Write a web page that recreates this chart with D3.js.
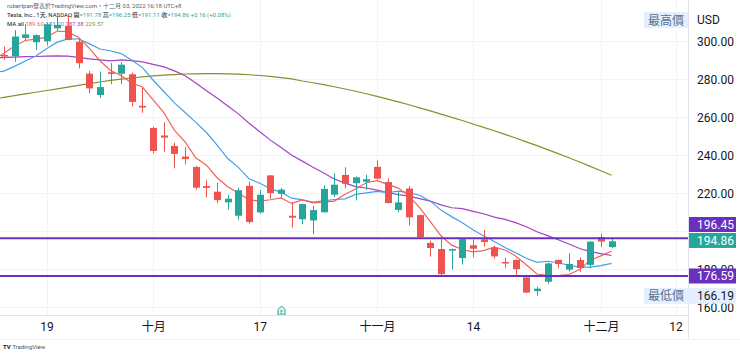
<!DOCTYPE html>
<html>
<head>
<meta charset="utf-8">
<script src="https://cdnjs.cloudflare.com/ajax/libs/d3/7.8.5/d3.min.js"></script>
<style>
  body { margin: 0; background: #fff; }
  svg { display: block; font-family: Roboto, "Noto Sans", "Noto Sans CJK TC", sans-serif; }
</style>
</head>
<body>
<div id="chart"></div>
<script>
// daily candles, TSLA, 2022-09-13 .. 2022-12-02
var dates = ['09-13','09-14','09-15','09-16','09-19','09-20','09-21','09-22','09-23','09-26',
  '09-27','09-28','09-29','09-30','10-03','10-04','10-05','10-06','10-07','10-10',
  '10-11','10-12','10-13','10-14','10-17','10-18','10-19','10-20','10-21','10-24',
  '10-25','10-26','10-27','10-28','10-31','11-01','11-02','11-03','11-04','11-07',
  '11-08','11-09','11-10','11-11','11-14','11-15','11-16','11-17','11-18','11-21',
  '11-22','11-23','11-25','11-28','11-29','11-30','12-01','12-02'];
var open = [292.90,292.24,301.83,299.61,300.09,306.91,308.29,299.86,283.09,271.83,
  283.84,283.08,282.76,266.15,254.50,250.52,245.01,239.44,233.94,223.93,
  220.95,215.33,208.30,224.01,210.04,229.50,219.80,208.28,206.42,205.82,
  210.10,219.40,229.77,225.40,226.19,234.05,226.04,211.36,222.60,208.65,
  194.02,190.78,189.90,186.00,192.77,195.88,191.51,183.96,185.05,175.85,
  168.63,173.57,185.06,179.96,184.99,182.43,197.08,191.78];
var high = [297.40,306.00,309.12,303.71,309.84,313.33,313.80,301.29,284.50,284.09,
  288.67,289.00,283.65,275.57,255.16,257.50,246.67,244.58,234.57,226.99,
  225.75,219.30,222.99,226.26,221.86,229.82,222.93,215.55,214.66,213.50,
  224.35,230.60,233.81,228.86,229.85,237.40,227.87,221.20,223.80,208.90,
  195.20,195.89,191.00,196.52,195.73,200.82,192.57,186.16,185.19,176.77,
  170.92,183.62,185.20,188.50,186.38,194.76,198.92,196.25];
var low = [290.40,289.30,300.72,295.60,297.80,305.58,300.63,285.82,272.82,270.31,
  277.51,277.57,265.78,262.47,241.01,242.01,233.27,235.35,222.02,218.00,
  215.00,211.51,206.22,204.16,209.45,217.25,217.78,202.00,203.80,198.59,
  210.00,218.20,222.85,216.35,221.94,227.28,214.82,210.14,203.08,196.66,
  186.75,177.12,180.03,182.59,186.34,192.06,185.66,180.90,176.55,167.54,
  166.19,172.50,180.63,179.00,178.75,180.63,191.80,191.11];
var close = [292.13,302.61,303.75,303.35,309.07,308.73,300.80,288.59,275.33,276.01,
  282.94,287.81,268.21,265.25,242.40,249.44,240.81,238.13,223.07,222.96,
  216.50,217.24,221.72,204.99,219.35,220.19,222.04,207.28,214.44,211.25,
  222.42,224.64,225.09,228.52,227.54,227.82,214.98,215.31,207.47,197.08,
  191.30,177.59,190.72,195.97,190.95,194.42,186.92,183.17,180.19,167.87,
  169.91,183.20,182.86,182.92,180.83,194.70,194.70,194.86];

// moving averages, first value is 09-12 (one bar left of the view)
var ma5 = [290.30,293.84,297.62,300.52,301.25,302.18,305.50,305.14,302.11,296.50,289.89,
  284.73,282.14,278.06,276.04,269.32,262.62,253.22,247.21,238.77,234.88,
  228.29,223.58,220.30,216.68,215.96,216.70,217.66,214.77,216.66,215.04,
  215.49,216.01,219.57,222.38,225.64,226.72,224.79,222.83,218.62,212.53,
  205.23,197.75,192.83,190.53,189.31,189.93,191.80,190.29,187.13,182.51,
  177.61,176.87,176.81,177.35,179.94,184.90,187.20,189.60];
var ma10 = [283.70,284.43,286.92,289.73,292.35,296.24,299.67,301.38,301.31,298.88,296.04,
  295.12,293.64,290.08,286.27,279.61,273.68,267.68,262.63,257.41,252.10,
  245.46,238.40,233.75,227.73,225.42,222.50,220.62,217.53,216.67,215.50,
  216.09,216.83,217.17,219.52,220.34,221.10,220.40,221.20,220.50,219.09,
  215.98,211.27,207.83,204.58,200.92,197.58,194.77,191.56,188.83,185.91,
  183.77,184.33,183.55,182.24,181.23,181.26,182.04,183.20];
var ma20 = [291.4,291.6,291.8,292.0,292.1,292.3,292.4,292.3,291.6,290.9,290.3,
  289.77,290.28,289.91,289.31,287.92,286.67,284.53,281.97,278.14,274.07,
  270.29,266.02,261.92,257.00,252.51,248.09,244.15,240.08,237.04,233.80,
  230.78,227.62,225.46,223.62,222.88,221.80,220.51,219.37,218.59,217.29,
  216.03,214.05,212.50,212.05,210.63,209.34,207.59,206.38,204.67,202.50,
  199.87,197.80,195.69,193.41,191.07,189.42,188.40,187.38];
var ma60 = [269.7,270.6,271.5,272.4,273.3,274.2,275.1,276.0,276.9,277.8,278.7,
  279.5,280.2,280.8,281.4,281.9,282.3,282.6,282.9,283.0,283.1,
  283.1,283.0,282.8,282.5,282.1,281.6,281.0,280.3,279.2,278.3,
  277.3,276.2,275.0,273.8,272.5,271.1,269.7,268.2,266.7,265.1,
  263.5,261.8,260.1,258.4,256.6,254.8,253.0,251.1,249.2,247.2,
  245.2,243.1,241.0,238.8,236.6,234.3,232.0,229.57];

var priceTicks = [160, 180, 200, 220, 240, 260, 280, 300];
var priceLabels = [160, 180, 220, 240, 260, 280, 300];   // 200.00 sits under the badges
var timeTicks = [4, 14, 24, 35, 44, 56, 63];   // bar index (future bar for 12)
var timeLabels = ['19', '十月', '17', '十一月', '14', '十二月', '12'];
var hLines = [196.45, 176.59];
var lastClose = 194.86, lowest = 166.19;
var maValues = ['189.60', '183.20', '187.38', '229.57'];

var W = 740, H = 353;
var paneRight = 688, paneBottom = 315;
var up = '#26a69a', down = '#ef5350';
var maColors = ['#f0625a', '#42a0ec', '#a443c2', '#8b8d2c'];

var svg = d3.select('#chart').append('svg')
  .attr('width', W).attr('height', H);

var x = d3.scaleLinear().domain([0, 63]).range([3.9, 675.5]);
var y = d3.scaleLinear().domain([160, 300]).range([307.5, 41.5]);

// grid
svg.append('g').selectAll('line.h').data(priceTicks).enter().append('line')
  .attr('x1', 0).attr('x2', paneRight)
  .attr('y1', function(d) { return y(d); }).attr('y2', function(d) { return y(d); })
  .attr('stroke', '#f0f3fa').attr('stroke-width', 1);
svg.append('g').selectAll('line.v').data(timeTicks).enter().append('line')
  .attr('x1', function(d) { return Math.round(x(d)) + 0.5; })
  .attr('x2', function(d) { return Math.round(x(d)) + 0.5; })
  .attr('y1', 0).attr('y2', paneBottom)
  .attr('stroke', '#f0f3fa').attr('stroke-width', 1);

// header / legend
var head = svg.append('g').attr('font-size', 6);
head.append('text').attr('x', 7).attr('y', 8).attr('fill', '#5d606b')
  .text('robertpan發表於TradingView.com，十二月 03, 2022 16:18 UTC+8');
var l2 = head.append('text').attr('x', 7).attr('y', 17).attr('fill', '#131722');
l2.append('tspan').text('Tesla, Inc., 1天, NASDAQ  ');
[['開', '191.78'], ['高', '196.25'], ['低', '191.11'], ['收', '194.86']].forEach(function(p) {
  l2.append('tspan').attr('fill', '#131722').text(p[0]);
  l2.append('tspan').attr('fill', up).text('=' + p[1] + ' ');
});
l2.append('tspan').attr('fill', up).text('+0.16 (+0.08%)');
var l3 = head.append('text').attr('x', 7).attr('y', 26).attr('fill', '#131722');
l3.append('tspan').text('MA all ');
maValues.forEach(function(v, i) {
  l3.append('tspan').attr('fill', maColors[i]).text(' ' + v);
});

// moving averages
var maLine = d3.line()
  .x(function(d, i) { return x(i - 1); })
  .y(function(d) { return y(d); });
var clip = svg.append('clipPath').attr('id', 'pane')
  .append('rect').attr('x', 0).attr('y', 0).attr('width', paneRight).attr('height', paneBottom);
var plot = svg.append('g').attr('clip-path', 'url(#pane)');
[ma60, ma20, ma10, ma5].forEach(function(s, j) {
  plot.append('path').datum(s)
    .attr('d', maLine)
    .attr('fill', 'none')
    .attr('stroke', maColors[3 - j])
    .attr('stroke-width', 1.2);
});

// candles
var bars = plot.selectAll('g.c').data(dates).enter().append('g')
  .attr('fill', function(d, i) { return close[i] >= open[i] ? up : down; })
  .attr('stroke', function(d, i) { return close[i] >= open[i] ? up : down; });
bars.append('line')
  .attr('x1', function(d, i) { return Math.round(x(i)) + 0.5; })
  .attr('x2', function(d, i) { return Math.round(x(i)) + 0.5; })
  .attr('y1', function(d, i) { return y(high[i]); })
  .attr('y2', function(d, i) { return y(low[i]); });
bars.append('rect')
  .attr('stroke', 'none')
  .attr('x', function(d, i) { return Math.round(x(i)) - 3; })
  .attr('width', 7)
  .attr('y', function(d, i) { return y(Math.max(open[i], close[i])); })
  .attr('height', function(d, i) { return Math.max(1, Math.abs(y(open[i]) - y(close[i]))); });

// drawn horizontal lines
plot.selectAll('line.hl').data(hLines).enter().append('line')
  .attr('x1', 0).attr('x2', paneRight)
  .attr('y1', function(d) { return y(d); }).attr('y2', function(d) { return y(d); })
  .attr('stroke', '#6b2fbf').attr('stroke-width', 2);

// earnings marker (10-19)
var ex = Math.round(x(26)) + 0.5, ey = 311;
svg.append('path')
  .attr('d', 'M' + (ex - 3.5) + ',' + (ey + 4) + 'V' + (ey - 1.5) + 'L' + ex + ',' + (ey - 5) +
    'L' + (ex + 3.5) + ',' + (ey - 1.5) + 'V' + (ey + 4) + 'Z')
  .attr('fill', '#e6f4f2').attr('stroke', up).attr('stroke-width', 1);
svg.append('text').attr('x', ex).attr('y', ey + 2.5).attr('text-anchor', 'middle')
  .attr('font-size', 5).attr('fill', up).text('E');

// frames
svg.append('line').attr('x1', paneRight + 0.5).attr('x2', paneRight + 0.5)
  .attr('y1', 0).attr('y2', 339).attr('stroke', '#e0e3eb');
svg.append('line').attr('x1', 0).attr('x2', paneRight)
  .attr('y1', paneBottom + 0.5).attr('y2', paneBottom + 0.5).attr('stroke', '#e0e3eb');
svg.append('line').attr('x1', 0).attr('x2', W)
  .attr('y1', 339.5).attr('y2', 339.5).attr('stroke', '#f0f3fa');

// price axis
var axisY = d3.axisRight(y).tickValues(priceLabels).tickSize(0).tickPadding(9)
  .tickFormat(d3.format('.2f'));
svg.append('g').attr('transform', 'translate(' + paneRight + ',0)').call(axisY)
  .call(function(g) { g.select('.domain').remove(); })
  .selectAll('text').attr('font-size', 12).attr('fill', '#131722')
  .attr('font-family', 'Roboto, "Noto Sans", sans-serif');

svg.append('text').attr('x', 697).attr('y', 24).attr('font-size', 12)
  .attr('fill', '#131722').text('USD');

// high / low labels
svg.append('rect').attr('x', 644).attr('y', 12).attr('width', 44).attr('height', 16)
  .attr('fill', '#e3effd');
svg.append('text').attr('x', 666).attr('y', 24.5).attr('text-anchor', 'middle')
  .attr('font-size', 12).attr('fill', '#5b6f8c').text('最高價');
svg.append('rect').attr('x', 644).attr('y', y(lowest) - 8).attr('width', 92).attr('height', 16)
  .attr('fill', '#e3effd');
svg.append('text').attr('x', 666).attr('y', y(lowest) + 4.5).attr('text-anchor', 'middle')
  .attr('font-size', 12).attr('fill', '#5b6f8c').text('最低價');
svg.append('text').attr('x', 697).attr('y', y(lowest) + 4.5)
  .attr('font-size', 12).attr('fill', '#131722').text(d3.format('.2f')(lowest));

// price badges
var badges = [
  { v: hLines[0], c: '#6b2fbf', cy: 224.5 },
  { v: lastClose, c: up, cy: y(lastClose) - 0.8 },
  { v: hLines[1], c: '#6b2fbf', cy: y(hLines[1]) }
];
badges.forEach(function(b) {
  svg.append('rect').attr('x', paneRight + 1).attr('y', b.cy - 7.5)
    .attr('width', 47).attr('height', 15).attr('fill', b.c);
  svg.append('text').attr('x', 697).attr('y', b.cy + 4.3)
    .attr('font-size', 12).attr('fill', '#fff').text(d3.format('.2f')(b.v));
});

// time axis
var axisX = d3.axisBottom(x).tickValues(timeTicks).tickSize(0).tickPadding(0)
  .tickFormat(function(d, i) { return timeLabels[i]; });
svg.append('g').attr('transform', 'translate(0,' + (paneBottom + 7) + ')').call(axisX)
  .call(function(g) { g.select('.domain').remove(); })
  .selectAll('text').attr('font-size', 12).attr('fill', '#131722')
  .attr('font-family', 'Roboto, "Noto Sans CJK TC", sans-serif');

// logo
var logo = svg.append('text').attr('x', 3).attr('y', 349).attr('font-size', 6).attr('fill', '#131722');
logo.append('tspan').attr('font-weight', 'bold').text('TV ');
logo.append('tspan').attr('fill', '#555').text('TradingView');
</script>
</body>
</html>
